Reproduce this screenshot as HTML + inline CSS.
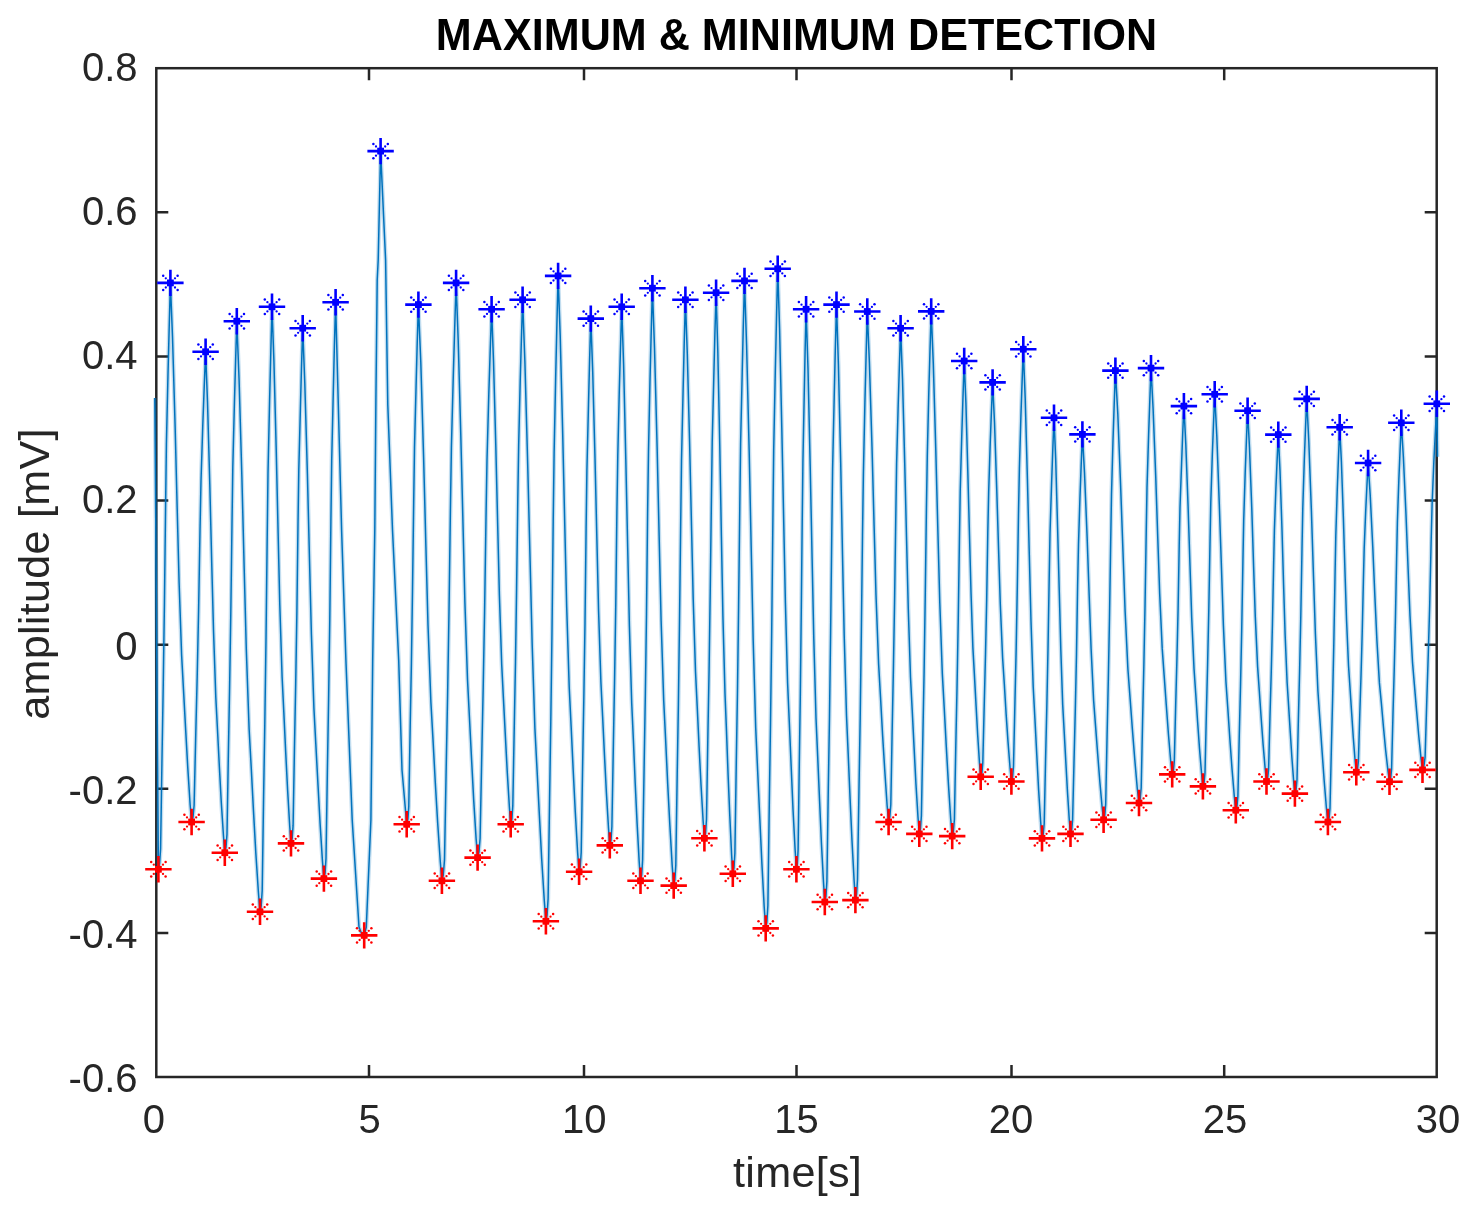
<!DOCTYPE html>
<html lang="en"><head><meta charset="utf-8">
<title>MAXIMUM &amp; MINIMUM DETECTION</title>
<style>
html,body{margin:0;padding:0;background:#fff;}
body{width:1471px;height:1213px;overflow:hidden;}
svg{display:block;will-change:transform;}
text{font-family:"Liberation Sans",Arial,Helvetica,sans-serif;fill:#262626;}
.tick{font-size:40.0px;}
.lab{font-size:43.2px;letter-spacing:0.26px;}
.ttl{font-size:45.0px;font-weight:bold;fill:#000;}
.ax{stroke:#262626;stroke-width:2.5;fill:none;}
.halo{stroke:#0072bd;stroke-width:4.2;stroke-opacity:0.24;fill:none;stroke-linejoin:round;}
.core{stroke:#0072bd;stroke-width:1.5;fill:none;stroke-linejoin:round;}
.mb{stroke:#0000ff;fill:#0000ff;}.mr{stroke:#ff0000;fill:#ff0000;}
</style></head><body>
<svg width="1471" height="1213" viewBox="0 0 1471 1213">
<rect x="0" y="0" width="1471" height="1213" fill="#ffffff"/>
<defs>
<g id="star"><path d="M-13.2 0H13.2M0 -13.2V13.2" stroke-width="2.6" fill="none"/><g stroke="none"><rect x="-3.4" y="-3.4" width="6.8" height="6.8"/><circle cx="-4.6" cy="-4.6" r="1.15"/><circle cx="-7.2" cy="-7.2" r="1.25"/><circle cx="-4.6" cy="4.6" r="1.15"/><circle cx="-7.2" cy="7.2" r="1.25"/><circle cx="4.6" cy="-4.6" r="1.15"/><circle cx="7.2" cy="-7.2" r="1.25"/><circle cx="4.6" cy="4.6" r="1.15"/><circle cx="7.2" cy="7.2" r="1.25"/></g></g>
<clipPath id="clip"><rect x="153.1" y="68.2" width="1286.8" height="1008.8"/></clipPath>
<path id="sigp" d="M154.8 398 L158.4 869.3 L159.6 863.4 L160.6 848.8 L162 757.9 L163.2 687.5 L164.4 605.4 L165.6 505.7 L166.4 444.2 L168 373.8 L169.2 326.9 L170.4 282.9 L172.5 336.8 L175.1 425.8 L177.2 509.3 L179.1 582.6 L181.6 654.9 L183.5 689.9 L185.7 730.4 L187.8 768.1 L190.1 804.2 L191.6 822 L193 817.3 L194.1 805.5 L195.8 732.7 L197.2 676.2 L198.6 610.4 L200 530.5 L201 481.1 L202.8 424.7 L204.2 387.1 L205.6 351.8 L207.5 401.9 L209.8 484.5 L211.7 562.2 L213.5 630.3 L215.8 697.4 L217.5 730 L219.4 767.5 L221.3 802.6 L223.5 836.2 L224.8 852.7 L226 847.4 L227 834.1 L228.4 751.7 L229.6 687.9 L230.8 613.5 L232 523.2 L232.8 467.4 L234.4 403.6 L235.6 361.1 L236.8 321.2 L239.1 380.3 L241.9 477.7 L244.2 569.3 L246.3 649.6 L249.1 728.7 L251.2 767.1 L253.5 811.4 L255.8 852.7 L258.4 892.3 L260 911.8 L261.2 905.8 L262.2 890.6 L263.6 796.8 L264.8 724.2 L266 639.5 L267.2 536.7 L268 473.2 L269.6 400.6 L270.8 352.2 L272 306.8 L273.9 360.5 L276.2 449 L278.1 532.2 L279.8 605.1 L282.1 677.1 L283.8 711.9 L285.7 752.2 L287.6 789.7 L289.7 825.7 L291 843.4 L292.2 838.2 L293.1 825.4 L294.5 745.5 L295.7 683.7 L296.9 611.6 L298 524 L298.8 469.9 L300.4 408.1 L301.5 366.8 L302.7 328.2 L304.8 383.2 L307.4 474.1 L309.5 559.4 L311.4 634.2 L313.9 708 L315.8 743.8 L318 785 L320.1 823.6 L322.4 860.4 L323.9 878.6 L325.1 872.8 L326 858.4 L327.4 769.1 L328.6 699.9 L329.8 619.3 L330.9 521.3 L331.7 460.8 L333.3 391.6 L334.4 345.5 L335.6 302.3 L341.6 530 L345.9 660 L352.2 820 L359 927 L361.8 934 L364.2 935.4 L366.3 927 L370.9 820 L372.7 660 L374.8 530 L375.9 400 L377.2 280 L378.2 260 L380.6 151.1 L385.6 260 L387.8 405 L392.5 530 L398.7 660 L402 770 L406.7 824.3 L407.9 819.1 L408.8 806.1 L410.2 725.6 L411.4 663.2 L412.5 590.4 L413.7 502.1 L414.5 447.5 L416.1 385.2 L417.2 343.6 L418.4 304.6 L420.8 362.2 L423.6 457.3 L425.9 546.6 L428 625 L430.9 702.2 L433 739.6 L435.3 782.8 L437.7 823.2 L440.3 861.8 L441.9 880.8 L443.3 874.8 L444.5 859.9 L446.2 767.2 L447.6 695.5 L449 611.7 L450.4 510.1 L451.4 447.3 L453.3 375.6 L454.7 327.7 L456.1 282.9 L458.2 340.4 L460.8 435.2 L463 524.3 L464.9 602.4 L467.5 679.4 L469.4 716.8 L471.6 759.9 L473.7 800.1 L476.1 838.6 L477.6 857.6 L479 852.1 L480.1 838.4 L481.8 753.4 L483.2 687.6 L484.6 610.9 L486 517.7 L487 460.1 L488.8 394.3 L490.2 350.4 L491.6 309.3 L493.5 360.8 L495.8 445.8 L497.7 525.6 L499.4 595.6 L501.7 664.6 L503.4 698.1 L505.4 736.8 L507.3 772.8 L509.4 807.3 L510.7 824.3 L511.9 819.1 L512.8 805.9 L514.3 724.6 L515.5 661.7 L516.6 588.3 L517.8 499.1 L518.7 444 L520.2 381.1 L521.4 339.1 L522.6 299.8 L524.9 362 L527.7 464.5 L530.1 560.8 L532.2 645.4 L534.9 728.6 L537 769 L539.4 815.6 L541.7 859.2 L544.3 900.8 L545.9 921.3 L547.1 914.8 L548.1 898.7 L549.6 798.7 L550.8 721.2 L552 630.9 L553.2 521.2 L554.1 453.4 L555.7 375.9 L556.9 324.3 L558.1 275.9 L560.2 335.5 L562.7 433.8 L564.8 526.2 L566.7 607.2 L569.2 687.1 L571.1 725.8 L573.2 770.5 L575.3 812.2 L577.6 852.1 L579.1 871.8 L580.3 866.3 L581.2 852.4 L582.6 766.7 L583.8 700.3 L585 622.9 L586.1 528.8 L586.9 470.7 L588.5 404.3 L589.6 360.1 L590.8 318.6 L592.7 371.3 L595 458.2 L596.9 539.9 L598.6 611.5 L600.9 682.1 L602.6 716.3 L604.5 755.8 L606.4 792.7 L608.5 828 L609.8 845.4 L611 840 L611.9 826.5 L613.4 743.1 L614.6 678.4 L615.8 603 L616.9 511.5 L617.8 454.9 L619.3 390.3 L620.5 347.2 L621.7 306.8 L623.6 364.2 L625.8 458.9 L627.7 547.9 L629.4 625.9 L631.7 702.9 L633.4 740.2 L635.2 783.2 L637.1 823.4 L639.2 861.9 L640.5 880.8 L641.7 874.9 L642.6 860.1 L644.1 768.2 L645.3 697.1 L646.5 614.1 L647.6 513.4 L648.5 451.2 L650 380.1 L651.2 332.6 L652.4 288.2 L654.5 347.9 L657.1 446.5 L659.2 539.1 L661.1 620.4 L663.7 700.4 L665.6 739.2 L667.7 784 L669.9 825.9 L672.2 865.9 L673.7 885.6 L674.9 879.7 L675.8 865.1 L677.2 774.3 L678.4 704 L679.5 622 L680.7 522.4 L681.5 460.9 L683.1 390.6 L684.2 343.7 L685.4 299.8 L687.3 353.7 L689.6 442.5 L691.5 526 L693.2 599.2 L695.5 671.4 L697.2 706.4 L699.1 746.8 L701 784.5 L703.1 820.5 L704.4 838.3 L705.6 832.8 L706.5 819.2 L707.9 734.6 L709.1 669.2 L710.2 592.8 L711.4 500 L712.2 442.7 L713.8 377.3 L714.9 333.6 L716.1 292.7 L717.8 350.8 L719.8 446.7 L721.4 536.8 L722.9 615.8 L725 693.7 L726.5 731.4 L728.1 775 L729.8 815.7 L731.6 854.6 L732.8 873.8 L734 867.9 L734.9 853 L736.3 761.1 L737.5 690 L738.6 607 L739.8 506.2 L740.6 443.9 L742.2 372.8 L743.3 325.4 L744.5 280.9 L746.6 345.6 L749.2 452.5 L751.3 552.8 L753.2 640.9 L755.7 727.7 L757.6 769.8 L759.8 818.3 L761.9 863.6 L764.2 907 L765.7 928.4 L766.9 921.8 L767.9 905.3 L769.3 803.1 L770.5 723.9 L771.7 631.6 L772.9 519.4 L773.7 450.2 L775.3 371 L776.5 318.3 L777.7 268.8 L779.6 328.9 L781.8 427.9 L783.7 521 L785.4 602.7 L787.6 683.1 L789.3 722.2 L791.2 767.2 L793 809.2 L795.1 849.5 L796.4 869.3 L797.4 863.7 L798.1 849.7 L799.3 762.9 L800.3 695.7 L801.2 617.3 L802.2 522.1 L802.9 463.3 L804.2 396.1 L805.1 351.3 L806.1 309.3 L808 368.6 L810.2 466.4 L812.1 558.2 L813.8 638.8 L816 718.3 L817.7 756.8 L819.6 801.2 L821.4 842.7 L823.5 882.4 L824.8 902 L826 896 L826.9 881.1 L828.3 788.5 L829.5 716.8 L830.6 633.2 L831.8 531.6 L832.6 468.9 L834.2 397.2 L835.3 349.4 L836.5 304.6 L838.4 364.2 L840.7 462.4 L842.5 554.7 L844.2 635.7 L846.5 715.5 L848.2 754.2 L850.1 798.9 L852 840.6 L854.1 880.4 L855.4 900.1 L856.6 894.2 L857.5 879.5 L859 788.3 L860.2 717.6 L861.3 635.2 L862.5 535.2 L863.4 473.4 L864.9 402.7 L866.1 355.6 L867.3 311.5 L869.4 362.6 L872 446.8 L874.1 525.9 L876 595.3 L878.6 663.7 L880.5 696.9 L882.6 735.2 L884.8 771 L887.1 805.2 L888.6 822 L889.8 817.1 L890.8 804.7 L892.2 728.2 L893.4 669 L894.6 599.8 L895.8 515.9 L896.6 464.1 L898.2 404.8 L899.4 365.3 L900.6 328.3 L902.5 378.9 L904.7 462.3 L906.6 540.7 L908.3 609.4 L910.5 677.2 L912.2 710 L914.1 747.9 L915.9 783.3 L918 817.2 L919.3 833.9 L920.5 828.7 L921.4 815.6 L922.9 734.6 L924.1 671.9 L925.2 598.8 L926.4 509.9 L927.3 455.1 L928.8 392.4 L930 350.6 L931.2 311.4 L933.3 363.9 L935.8 450.4 L937.9 531.8 L939.8 603.1 L942.3 673.4 L944.2 707.5 L946.3 746.9 L948.4 783.6 L950.7 818.8 L952.2 836.1 L953.4 831.3 L954.4 819.5 L955.8 745.8 L957 688.8 L958.2 622.3 L959.4 541.5 L960.2 491.7 L961.8 434.6 L963 396.6 L964.2 361 L965.9 402.6 L967.8 471.2 L969.5 535.6 L971 592.2 L972.9 647.9 L974.4 674.9 L976.1 706.1 L977.7 735.2 L979.5 763.1 L980.7 776.8 L981.9 772.9 L982.8 763 L984.3 701.9 L985.5 654.5 L986.7 599.3 L987.8 532.3 L988.7 490.9 L990.2 443.5 L991.4 412 L992.6 382.4 L994.5 422.3 L996.7 488.2 L998.6 550 L1000.3 604.3 L1002.6 657.8 L1004.3 683.7 L1006.1 713.7 L1008 741.6 L1010.1 768.3 L1011.4 781.5 L1012.6 777.2 L1013.5 766.4 L1015 699.4 L1016.2 647.5 L1017.3 587 L1018.5 513.5 L1019.4 468.1 L1020.9 416.2 L1022.1 381.6 L1023.3 349.2 L1025.2 398.1 L1027.4 478.8 L1029.3 554.7 L1031 621.2 L1033.2 686.7 L1034.9 718.5 L1036.8 755.2 L1038.6 789.5 L1040.7 822.3 L1042 838.4 L1043.2 834.2 L1044.2 823.7 L1045.6 758.5 L1046.8 708 L1048 649.1 L1049.2 577.6 L1050 533.5 L1051.6 483 L1052.8 449.3 L1054 417.8 L1055.7 459.4 L1057.6 528.1 L1059.3 592.6 L1060.8 649.2 L1062.7 704.9 L1064.2 732 L1065.9 763.2 L1067.5 792.3 L1069.3 820.2 L1070.5 833.9 L1071.7 829.9 L1072.6 819.9 L1074.1 758 L1075.3 710.1 L1076.5 654.1 L1077.6 586.2 L1078.5 544.3 L1080 496.3 L1081.2 464.4 L1082.4 434.4 L1084.5 472.9 L1087.1 536.5 L1089.2 596.3 L1091.1 648.7 L1093.6 700.3 L1095.5 725.4 L1097.7 754.3 L1099.8 781.3 L1102.1 807.1 L1103.6 819.8 L1104.8 815.3 L1105.7 804.1 L1107.1 734.5 L1108.3 680.5 L1109.5 617.7 L1110.7 541.3 L1111.5 494.1 L1113 440.2 L1114.2 404.3 L1115.4 370.6 L1117.8 413.8 L1120.6 485.2 L1123 552.2 L1125.1 611 L1127.9 669 L1130 697.1 L1132.4 729.5 L1134.8 759.8 L1137.3 788.7 L1139 803 L1140.2 798.7 L1141.2 787.8 L1142.6 720.4 L1143.8 668.2 L1145 607.3 L1146.2 533.4 L1147 487.7 L1148.6 435.5 L1149.8 400.7 L1151 368.1 L1153.1 408.7 L1155.7 475.8 L1157.8 538.7 L1159.7 594 L1162.2 648.4 L1164.1 674.9 L1166.3 705.3 L1168.4 733.8 L1170.7 761 L1172.2 774.4 L1173.4 770.7 L1174.3 761.5 L1175.7 704.4 L1176.9 660.2 L1178.1 608.7 L1179.2 546.1 L1180 507.4 L1181.6 463.2 L1182.7 433.7 L1183.9 406.1 L1185.8 444.1 L1188.1 506.9 L1190 565.8 L1191.7 617.5 L1194 668.5 L1195.7 693.2 L1197.6 721.7 L1199.5 748.4 L1201.6 773.9 L1202.9 786.4 L1204.1 782.5 L1205 772.7 L1206.4 711.9 L1207.6 664.8 L1208.8 610 L1210 543.3 L1210.8 502.1 L1212.3 455.1 L1213.5 423.7 L1214.7 394.3 L1216.8 435.9 L1219.3 504.5 L1221.5 569 L1223.4 625.5 L1225.9 681.3 L1227.8 708.3 L1229.9 739.5 L1232 768.6 L1234.3 796.5 L1235.8 810.2 L1237 806.2 L1237.9 796.2 L1239.3 734.3 L1240.5 686.4 L1241.7 630.4 L1242.9 562.5 L1243.7 520.6 L1245.2 472.6 L1246.4 440.7 L1247.6 410.7 L1249.5 447.8 L1251.8 509 L1253.6 566.4 L1255.3 616.9 L1257.6 666.6 L1259.3 690.7 L1261.2 718.5 L1263.1 744.4 L1265.2 769.3 L1266.5 781.5 L1267.7 778 L1268.6 769.4 L1270 715.6 L1271.2 674 L1272.4 625.4 L1273.6 566.4 L1274.4 530 L1275.9 488.4 L1277.1 460.6 L1278.3 434.6 L1280 470.5 L1282 529.7 L1283.6 585.4 L1285.1 634.2 L1287.1 682.3 L1288.6 705.6 L1290.3 732.6 L1291.9 757.7 L1293.7 781.8 L1294.9 793.6 L1296.1 789.7 L1297 779.8 L1298.4 718.6 L1299.6 671.2 L1300.8 616 L1302 548.9 L1302.8 507.4 L1304.3 460.1 L1305.5 428.5 L1306.7 398.9 L1308.8 441.2 L1311.4 511 L1313.5 576.6 L1315.4 634.1 L1317.9 690.8 L1319.8 718.3 L1322 750.1 L1324.1 779.7 L1326.4 808 L1327.9 822 L1329.1 818.1 L1330 808.2 L1331.4 747 L1332.6 699.6 L1333.8 644.4 L1335 577.3 L1335.8 535.8 L1337.3 488.5 L1338.5 456.9 L1339.7 427.3 L1341.4 461.8 L1343.4 518.7 L1345 572.2 L1346.5 619.1 L1348.5 665.3 L1350 687.7 L1351.7 713.6 L1353.3 737.7 L1355.1 760.8 L1356.3 772.2 L1357.5 769.1 L1358.4 761.4 L1359.8 713.5 L1361 676.3 L1362.2 633.1 L1363.4 580.5 L1364.2 548 L1365.7 510.9 L1366.9 486.2 L1368.1 463 L1370.2 494.9 L1372.8 547.5 L1374.9 596.9 L1376.9 640.2 L1379.4 682.9 L1381.4 703.6 L1383.5 727.5 L1385.6 749.8 L1388 771.2 L1389.5 781.7 L1390.7 778.1 L1391.6 769.1 L1393 713.5 L1394.2 670.4 L1395.4 620.2 L1396.6 559.2 L1397.4 521.5 L1398.9 478.4 L1400.1 449.7 L1401.3 422.8 L1403.4 457.5 L1406 514.8 L1408.1 568.6 L1410 615.8 L1412.5 662.3 L1414.4 684.9 L1416.6 710.9 L1418.7 735.2 L1421 758.4 L1422.5 769.9 L1423.9 766.2 L1425.1 757.1 L1426.8 700.3 L1428.2 656.4 L1429.7 605.2 L1431.1 542.9 L1432.1 504.5 L1433.9 460.5 L1435.4 431.3 L1436.8 403.8 L1437.5 456.7"/>
</defs>
<g class="ax">
<rect x="156.3" y="68.2" width="1280.4" height="1008.8"/>
<path d="M369 1077V1065M369 68.2V80.2M584 1077V1065M584 68.2V80.2M796.5 1077V1065M796.5 68.2V80.2M1011.5 1077V1065M1011.5 68.2V80.2M1224.2 1077V1065M1224.2 68.2V80.2M156.3 212.3H168.3M1436.7 212.3H1424.7M156.3 356.4H168.3M1436.7 356.4H1424.7M156.3 500.5H168.3M1436.7 500.5H1424.7M156.3 644.7H168.3M1436.7 644.7H1424.7M156.3 788.8H168.3M1436.7 788.8H1424.7M156.3 932.9H168.3M1436.7 932.9H1424.7"/>
</g>
<g clip-path="url(#clip)"><use href="#sigp" class="halo"/><use href="#sigp" class="core"/></g>
<g class="mr">
<use href="#star" x="158.4" y="869.3"/>
<use href="#star" x="191.6" y="822"/>
<use href="#star" x="224.8" y="852.7"/>
<use href="#star" x="260" y="911.8"/>
<use href="#star" x="291" y="843.4"/>
<use href="#star" x="323.9" y="878.6"/>
<use href="#star" x="364.2" y="935.4"/>
<use href="#star" x="406.7" y="824.3"/>
<use href="#star" x="441.9" y="880.8"/>
<use href="#star" x="477.6" y="857.6"/>
<use href="#star" x="510.7" y="824.3"/>
<use href="#star" x="545.9" y="921.3"/>
<use href="#star" x="579.1" y="871.8"/>
<use href="#star" x="609.8" y="845.4"/>
<use href="#star" x="640.5" y="880.8"/>
<use href="#star" x="673.7" y="885.6"/>
<use href="#star" x="704.4" y="838.3"/>
<use href="#star" x="732.8" y="873.8"/>
<use href="#star" x="765.7" y="928.4"/>
<use href="#star" x="796.4" y="869.3"/>
<use href="#star" x="824.8" y="902"/>
<use href="#star" x="855.4" y="900.1"/>
<use href="#star" x="888.6" y="822"/>
<use href="#star" x="919.3" y="833.9"/>
<use href="#star" x="952.2" y="836.1"/>
<use href="#star" x="980.7" y="776.8"/>
<use href="#star" x="1011.4" y="781.5"/>
<use href="#star" x="1042" y="838.4"/>
<use href="#star" x="1070.5" y="833.9"/>
<use href="#star" x="1103.6" y="819.8"/>
<use href="#star" x="1139" y="803"/>
<use href="#star" x="1172.2" y="774.4"/>
<use href="#star" x="1202.9" y="786.4"/>
<use href="#star" x="1235.8" y="810.2"/>
<use href="#star" x="1266.5" y="781.5"/>
<use href="#star" x="1294.9" y="793.6"/>
<use href="#star" x="1327.9" y="822"/>
<use href="#star" x="1356.3" y="772.2"/>
<use href="#star" x="1389.5" y="781.7"/>
<use href="#star" x="1422.5" y="769.9"/>
</g>
<g class="mb">
<use href="#star" x="170.4" y="282.9"/>
<use href="#star" x="205.6" y="351.8"/>
<use href="#star" x="236.8" y="321.2"/>
<use href="#star" x="272" y="306.8"/>
<use href="#star" x="302.7" y="328.2"/>
<use href="#star" x="335.6" y="302.3"/>
<use href="#star" x="380.6" y="151.1"/>
<use href="#star" x="418.4" y="304.6"/>
<use href="#star" x="456.1" y="282.9"/>
<use href="#star" x="491.6" y="309.3"/>
<use href="#star" x="522.6" y="299.8"/>
<use href="#star" x="558.1" y="275.9"/>
<use href="#star" x="590.8" y="318.6"/>
<use href="#star" x="621.7" y="306.8"/>
<use href="#star" x="652.4" y="288.2"/>
<use href="#star" x="685.4" y="299.8"/>
<use href="#star" x="716.1" y="292.7"/>
<use href="#star" x="744.5" y="280.9"/>
<use href="#star" x="777.7" y="268.8"/>
<use href="#star" x="806.1" y="309.3"/>
<use href="#star" x="836.5" y="304.6"/>
<use href="#star" x="867.3" y="311.5"/>
<use href="#star" x="900.6" y="328.3"/>
<use href="#star" x="931.2" y="311.4"/>
<use href="#star" x="964.2" y="361"/>
<use href="#star" x="992.6" y="382.4"/>
<use href="#star" x="1023.3" y="349.2"/>
<use href="#star" x="1054" y="417.8"/>
<use href="#star" x="1082.4" y="434.4"/>
<use href="#star" x="1115.4" y="370.6"/>
<use href="#star" x="1151" y="368.1"/>
<use href="#star" x="1183.9" y="406.1"/>
<use href="#star" x="1214.7" y="394.3"/>
<use href="#star" x="1247.6" y="410.7"/>
<use href="#star" x="1278.3" y="434.6"/>
<use href="#star" x="1306.7" y="398.9"/>
<use href="#star" x="1339.7" y="427.3"/>
<use href="#star" x="1368.1" y="463"/>
<use href="#star" x="1401.3" y="422.8"/>
<use href="#star" x="1436.8" y="403.8"/>
</g>
<g class="tick" text-anchor="middle">
<text x="153.9" y="1133.2">0</text>
<text x="369.6" y="1133.2">5</text>
<text x="584.2" y="1133.2">10</text>
<text x="796.5" y="1133.2">15</text>
<text x="1010.9" y="1133.2">20</text>
<text x="1225" y="1133.2">25</text>
<text x="1438" y="1133.2">30</text>
</g>
<g class="tick" text-anchor="end">
<text x="137.5" y="80.5">0.8</text>
<text x="137.5" y="224.7">0.6</text>
<text x="137.5" y="368.7">0.4</text>
<text x="137.5" y="513">0.2</text>
<text x="137.5" y="659.6">0</text>
<text x="137.5" y="803.5">-0.2</text>
<text x="137.5" y="947.6">-0.4</text>
<text x="137.5" y="1091.9">-0.6</text>
</g>
<text class="lab" text-anchor="middle" x="797.6" y="1186.8">time[s]</text>
<text class="lab" text-anchor="middle" transform="translate(48.9 574.0) rotate(-90)">amplitude [mV]</text>
<text class="ttl" text-anchor="middle" transform="translate(796.55 50.4) scale(0.959 1)">MAXIMUM &amp; MINIMUM DETECTION</text>
</svg></body></html>
